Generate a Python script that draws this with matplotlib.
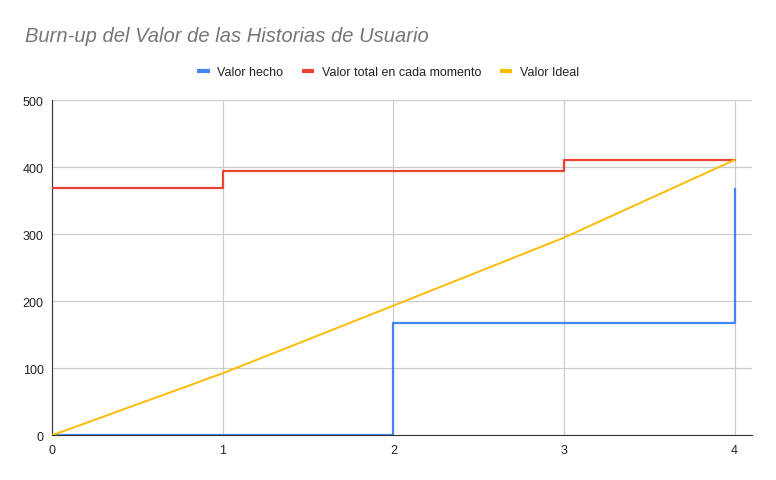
import matplotlib
matplotlib.use("Agg")
import matplotlib.pyplot as plt
from matplotlib.lines import Line2D

plt.rcParams['font.family'] = ['Liberation Sans', 'DejaVu Sans']

# data
sprints      = [0, 1, 2, 3, 4]
valor_hecho  = [0, 0, 168, 168, 368]
valor_total  = [369, 395, 395, 411, 411]
valor_ideal  = [0, 92.5, 193.5, 295, 411]
series_names = ["Valor hecho", "Valor total en cada momento", "Valor Ideal"]
y_ticks      = [0, 100, 200, 300, 400, 500]

blue   = "#4285F4"
red    = "#EA4335"
yellow = "#FBBC04"

fig = plt.figure(figsize=(7.76, 4.81), dpi=100)
ax  = fig.add_axes([52/776, (481-436.3)/481, (751.7-52)/776, (436.3-101.3)/481])

ax.step(sprints, valor_hecho, where="post", color=blue, lw=1.6, zorder=3)
ax.step(sprints, valor_total, where="post", color=red, lw=1.6, zorder=3)
ax.plot(sprints, valor_ideal, color=yellow, lw=1.4, zorder=4)

ax.set_xlim(0, 4.1)
ax.set_ylim(0, 500)
ax.set_xticks(sprints)
ax.set_yticks(y_ticks)
ax.grid(True, color="#cccccc", lw=0.9)
ax.set_axisbelow(True)
for s in ["top", "right"]:
	ax.spines[s].set_visible(False)
ax.spines["left"].set_color("#333333")
ax.spines["bottom"].set_color("#333333")
ax.tick_params(length=0, labelsize=9, colors="#222222", pad=6)

fig.text(25/776, 1 - 36/481, "Burn-up del Valor de las Historias de Usuario",
	fontsize=14.5, style="italic", color="#757575", va="center", ha="left")

handles = [Line2D([], [], color=c, lw=3, solid_capstyle="butt") for c in (blue, red, yellow)]
fig.legend(handles, series_names, loc="center", bbox_to_anchor=(0.5, 1 - 73/481),
	ncol=3, frameon=False, fontsize=9, handlelength=1.0, handletextpad=0.6,
	columnspacing=1.5, labelcolor="#222222")

fig.savefig("out.png", dpi=100)
